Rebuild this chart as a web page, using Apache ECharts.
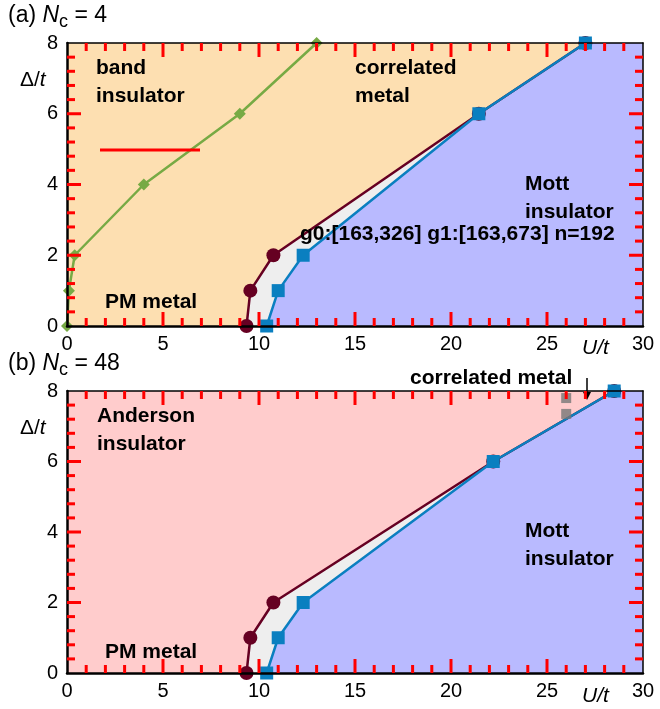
<!DOCTYPE html>
<html>
<head>
<meta charset="utf-8">
<script src="https://cdn.jsdelivr.net/npm/echarts@6/dist/echarts.min.js"></script>
<style>
  html, body { margin: 0; padding: 0; background: #fff; }
  #main { width: 660px; height: 709px; }
</style>
</head>
<body>
<div id="main"></div>
<script>
// ---- data ----
var xTicks = [0, 5, 10, 15, 20, 25, 30];
var yTicks = [0, 2, 4, 6, 8];

// (a) Nc = 4
var bandA = [[0, 0], [0.1, 1], [0.4, 2], [4.0, 4], [9.0, 6], [13.0, 8]];
var metalA = [[9.35, 0], [9.55, 1], [10.75, 2], [21.45, 6], [27.0, 8]];
var mottA = [[10.4, 0], [11.0, 1], [12.3, 2], [21.45, 6], [27.0, 8]];

// (b) Nc = 48
var metalB = [[9.35, 0], [9.55, 1], [10.75, 2], [22.2, 6], [28.5, 8]];
var mottB = [[10.4, 0], [11.0, 1], [12.3, 2], [22.2, 6], [28.5, 8]];
var grayB = [[26.0, 7.8], [26.0, 7.35]];

var FONT = 'Liberation Sans, Arial, Helvetica, sans-serif';
var RED = '#660022', BLUE = '#0a7fc0', GREEN = '#77aa44';

var chart = echarts.init(document.getElementById('main'));

function xAxisFor(gi, top) {
  return {
    type: 'value', gridIndex: gi, min: 0, max: 30, interval: 5, z: 10,
    position: top ? 'top' : 'bottom',
    axisLine: { show: true, onZero: false, lineStyle: { color: '#000', width: top ? 1.5 : 2.5 } },
    axisTick: { show: false },
    splitLine: { show: false },
    axisLabel: { show: !top, color: '#000', fontSize: 20, fontFamily: FONT, margin: 8 }
  };
}
function yAxisFor(gi, right) {
  return {
    type: 'value', gridIndex: gi, min: 0, max: 8, interval: 2, z: 10,
    position: right ? 'right' : 'left',
    axisLine: { show: true, onZero: false, lineStyle: { color: '#000', width: right ? 1.5 : 2.5 } },
    axisTick: { show: false },
    splitLine: { show: false },
    axisLabel: { show: !right, color: '#000', fontSize: 20, fontFamily: FONT, margin: 9 }
  };
}

// filled phase regions, built from the boundary arrays and the axis corners
function regions(metal, mott) {
  return function (params, api) {
    var gray = metal.concat(mott.slice().reverse()).map(function (p) { return api.coord(p); });
    var blue = mott.concat([[30, 8], [30, 0]]).map(function (p) { return api.coord(p); });
    return {
      type: 'group',
      children: [
        { type: 'polygon', shape: { points: gray }, style: { fill: '#eeeeee' } },
        { type: 'polygon', shape: { points: blue }, style: { fill: '#b9baff' } }
      ]
    };
  };
}

function lineSeries(data, xi, yi, color, symbol, size) {
  return {
    type: 'line', xAxisIndex: xi, yAxisIndex: yi, data: data,
    symbol: symbol, symbolSize: size, showSymbol: true,
    lineStyle: { color: color, width: 2.5 },
    itemStyle: { color: color },
    z: 4, animation: false
  };
}

function label(text, x, y) {
  return {
    type: 'text', left: x, top: y, z: 20,
    style: { text: text, fill: '#000', font: 'bold 21px ' + FONT, lineHeight: 28 }
  };
}

function title(tag, n, y) {
  return {
    type: 'text', left: 8, top: y, z: 20,
    style: {
      text: '{a|' + tag + ' }{i|N}{s|c}{a| = ' + n + '}',
      rich: {
        a: { fontSize: 23, fontFamily: FONT, fill: '#000' },
        i: { fontSize: 23, fontFamily: FONT, fontStyle: 'italic', fill: '#000' },
        s: { fontSize: 18, fontFamily: FONT, fill: '#000', padding: [14, 0, 0, 0] }
      }
    }
  };
}

function axisName(base, x, y) {
  return {
    type: 'text', left: x, top: y, z: 20,
    style: {
      text: '{a|' + base + '/}{i|t}',
      rich: {
        a: { fontSize: 21, fontFamily: FONT, fill: '#000', fontStyle: base === 'U' ? 'italic' : 'normal' },
        i: { fontSize: 21, fontFamily: FONT, fontStyle: 'italic', fill: '#000' }
      }
    }
  };
}

chart.setOption({
  animation: false,
  grid: [
    { left: 67, top: 43, width: 576, height: 283, show: true, backgroundColor: '#fddfb1', borderWidth: 0 },
    { left: 67, top: 391, width: 576, height: 282, show: true, backgroundColor: '#ffcccc', borderWidth: 0 }
  ],
  xAxis: [xAxisFor(0, false), xAxisFor(0, true), xAxisFor(1, false), xAxisFor(1, true)],
  yAxis: [yAxisFor(0, false), yAxisFor(0, true), yAxisFor(1, false), yAxisFor(1, true)],
  series: [
    { type: 'custom', xAxisIndex: 0, yAxisIndex: 0, data: [[0, 0]], renderItem: regions(metalA, mottA), z: 1, silent: true },
    lineSeries(bandA, 0, 0, GREEN, 'diamond', 12),
    lineSeries(metalA, 0, 0, RED, 'circle', 14),
    lineSeries(mottA, 0, 0, BLUE, 'rect', 13),
    { type: 'custom', xAxisIndex: 2, yAxisIndex: 2, data: [[0, 0]], renderItem: regions(metalB, mottB), z: 1, silent: true },
    lineSeries(metalB, 2, 2, RED, 'circle', 14),
    lineSeries(mottB, 2, 2, BLUE, 'rect', 13),
    {
      type: 'scatter', xAxisIndex: 2, yAxisIndex: 2, data: grayB,
      symbol: 'rect', symbolSize: 10, itemStyle: { color: '#777777' }, z: 4
    }
  ]
});

// inward ticks on all four sides of each panel, placed through the axes' scale
var tickEls = [];
var dbg = '';
[0, 1].forEach(function (gi) {
  function px(v) { return chart.convertToPixel({ xAxisIndex: gi * 2, yAxisIndex: gi * 2 }, v); }
  function seg(a, b) {
    tickEls.push({ type: 'line', z: 30,
      shape: { x1: a[0], y1: a[1], x2: b[0], y2: b[1] },
      style: { stroke: '#ff0000', lineWidth: 3 } });
  }
  var x0 = xTicks[0], x1 = xTicks[xTicks.length - 1], dx = (xTicks[1] - xTicks[0]) / 5;
  var y0 = yTicks[0], y1 = yTicks[yTicks.length - 1], dy = (yTicks[1] - yTicks[0]) / 5;
  var probe = px([5, 0]);
  dbg += 'g' + gi + ':' + JSON.stringify(probe) + ' ';
  for (var i = 1; i < Math.round((x1 - x0) / dx); i++) {
    var len = i % 5 === 0 ? 14 : 8;
    var b = px([x0 + i * dx, y0]), t = px([x0 + i * dx, y1]);
    if (!b || !t) continue;
    seg(b, [b[0], b[1] - len]);
    seg(t, [t[0], t[1] + len]);
  }
  for (var j = 1; j < Math.round((y1 - y0) / dy); j++) {
    var lenY = j % 5 === 0 ? 14 : 8;
    var l = px([x0, y0 + j * dy]), r = px([x1, y0 + j * dy]);
    if (!l || !r) continue;
    seg(l, [l[0] + lenY, l[1]]);
    seg(r, [r[0] - lenY, r[1]]);
  }
});
dbg += 'n=' + tickEls.length;

var labels = [
  title('(a)', '4', 4),
  title('(b)', '48', 352),
  axisName('Δ', 20, 70),
  axisName('Δ', 20, 418),
  axisName('U', 582, 338),
  axisName('U', 582, 686),
  label('band\ninsulator', 96, 54),
  label('correlated\nmetal', 355, 54),
  label('Mott\ninsulator', 525, 170),
  label('PM metal', 105, 288),
  label(dbg, 300, 220),
  label('Anderson\ninsulator', 97, 402),
  label('Mott\ninsulator', 525, 517),
  label('PM metal', 105, 638),
  label('correlated metal', 410, 364),
  { type: 'line', z: 20, shape: { x1: 587, y1: 378, x2: 587, y2: 398 }, style: { stroke: '#000', lineWidth: 1.5 } },
  { type: 'polygon', z: 20, shape: { points: [[583, 392], [591, 392], [587, 400]] }, style: { fill: '#000' } },
  { type: 'line', z: 30, shape: { x1: 100, y1: 150, x2: 200, y2: 150 }, style: { stroke: '#ff0000', lineWidth: 3 } }
];

chart.setOption({ graphic: { elements: labels.concat(tickEls) } });
</script>
</body>
</html>
